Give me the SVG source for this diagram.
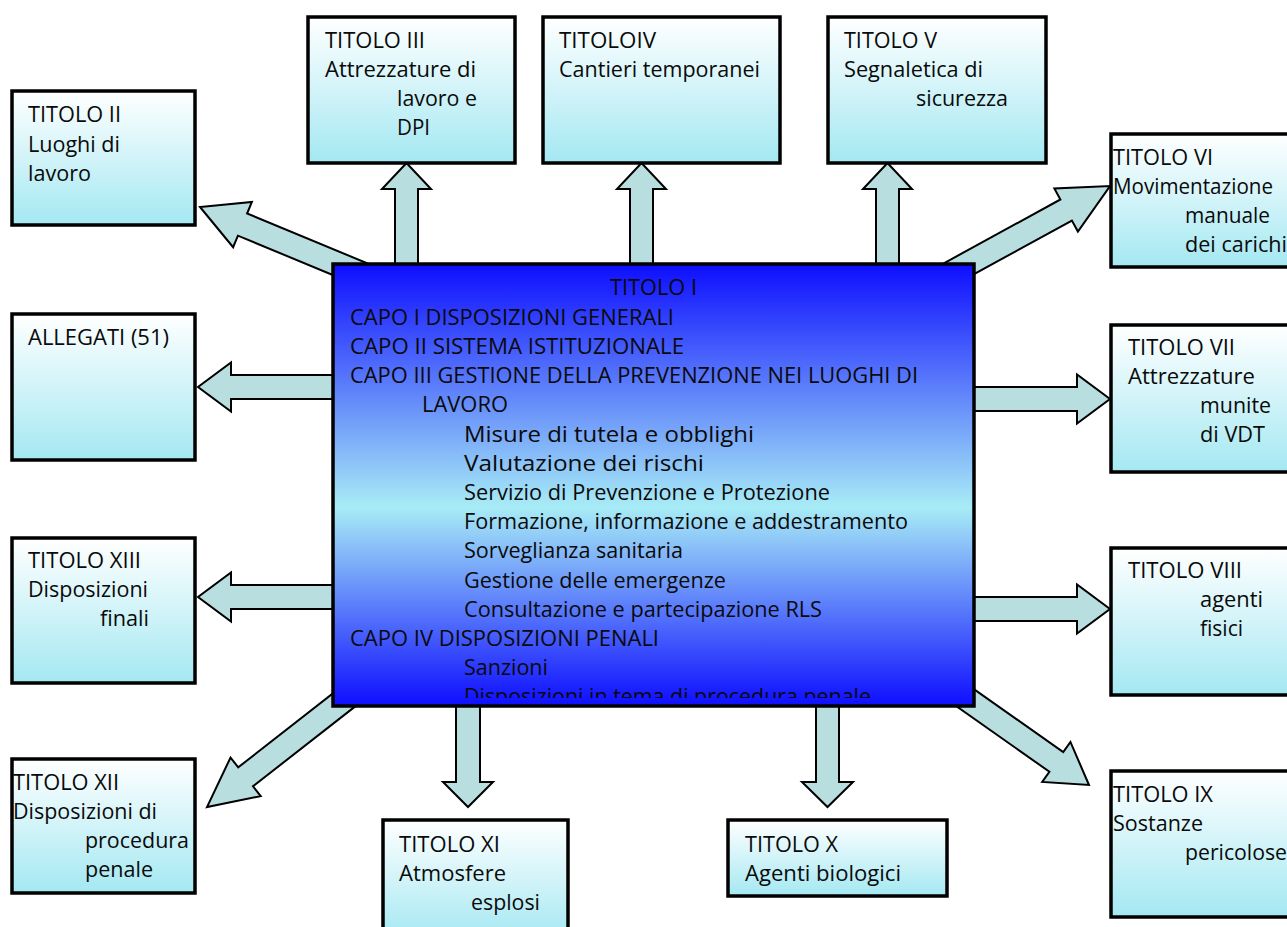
<svg xmlns="http://www.w3.org/2000/svg" width="1287" height="927" viewBox="0 0 1287 927">
<style>
.box{fill:url(#boxg);stroke:#000;stroke-width:3.5}
.arr{fill:#b8dee0;stroke:#000;stroke-width:2;stroke-linejoin:miter}
text{font-family:"Open Sans","Liberation Sans",sans-serif;font-size:21px;fill:#0a0a0a}
</style>
<defs>
<linearGradient id="boxg" x1="0" y1="0" x2="0" y2="1">
<stop offset="0" stop-color="#ffffff"/>
<stop offset="1" stop-color="#a4e8f2"/>
</linearGradient>
<linearGradient id="maing" x1="0" y1="0" x2="0" y2="1">
<stop offset="0" stop-color="#0e0eff"/>
<stop offset="0.55" stop-color="#a8ecf6"/>
<stop offset="1" stop-color="#0e0eff"/>
</linearGradient>
<clipPath id="mainclip"><rect x="335" y="266" width="638" height="432"/></clipPath>
</defs>
<rect width="1287" height="927" fill="#fff"/>
<g id="connectors">
<polygon class="arr" points="-195,-12 -46,-12 -46,-24.5 0,0 -46,24.5 -46,12 -195,12" transform="translate(200,207) rotate(-157.5)"/>
<polygon class="arr" points="395,270 395,189 382,189 406.5,163 431,189 418,189 418,270"/>
<polygon class="arr" points="630,270 630,189 617,189 641.5,163 666,189 653,189 653,270"/>
<polygon class="arr" points="876,270 876,189 863,189 887.5,163 912,189 899,189 899,270"/>
<polygon class="arr" points="-185,-12 -50,-12 -50,-24.5 0,0 -50,24.5 -50,12 -185,12" transform="translate(1110,186) rotate(-28.7)"/>
<polygon class="arr" points="340,375 231,375 231,362.5 198,387 231,411.5 231,399 340,399"/>
<polygon class="arr" points="340,585 231,585 231,572.5 198,597 231,621.5 231,609 340,609"/>
<polygon class="arr" points="968,387 1077,387 1077,374.5 1110,399 1077,423.5 1077,411 968,411"/>
<polygon class="arr" points="968,597 1077,597 1077,584.5 1110,609 1077,633.5 1077,621 968,621"/>
<polygon class="arr" points="-155,-12 -40,-12 -40,-24.5 0,0 -40,24.5 -40,12 -155,12" transform="translate(1089,785) rotate(35.2)"/>
<polygon class="arr" points="816,700 816,782 802,782 827.5,807 853,782 839,782 839,700"/>
<polygon class="arr" points="456,700 456,782 443,782 468,807 493,782 480,782 480,700"/>
<polygon class="arr" points="-180,-12 -49,-12 -49,-24.5 0,0 -49,24.5 -49,12 -180,12" transform="translate(207,807) rotate(142)"/>
</g>
<g id="titolo1">
<rect x="333" y="264" width="641" height="442" fill="url(#maing)" stroke="#000" stroke-width="3.5"/>
<g clip-path="url(#mainclip)">
<text x="610" y="295" textLength="87" lengthAdjust="spacingAndGlyphs">TITOLO I</text>
<text x="350" y="325" textLength="324" lengthAdjust="spacingAndGlyphs">CAPO I DISPOSIZIONI GENERALI</text>
<text x="350" y="354" textLength="334" lengthAdjust="spacingAndGlyphs">CAPO II SISTEMA ISTITUZIONALE</text>
<text x="350" y="383" textLength="568" lengthAdjust="spacingAndGlyphs">CAPO III GESTIONE DELLA PREVENZIONE NEI LUOGHI DI</text>
<text x="422" y="412" textLength="86" lengthAdjust="spacingAndGlyphs">LAVORO</text>
<text x="464" y="442" textLength="290" lengthAdjust="spacingAndGlyphs">Misure di tutela e obblighi</text>
<text x="464" y="471" textLength="240" lengthAdjust="spacingAndGlyphs">Valutazione dei rischi</text>
<text x="464" y="500" textLength="366" lengthAdjust="spacingAndGlyphs">Servizio di Prevenzione e Protezione</text>
<text x="464" y="529" textLength="444" lengthAdjust="spacingAndGlyphs">Formazione, informazione e addestramento</text>
<text x="464" y="558" textLength="219" lengthAdjust="spacingAndGlyphs">Sorveglianza sanitaria</text>
<text x="464" y="588" textLength="262" lengthAdjust="spacingAndGlyphs">Gestione delle emergenze</text>
<text x="464" y="617" textLength="358" lengthAdjust="spacingAndGlyphs">Consultazione e partecipazione RLS</text>
<text x="350" y="646" textLength="309" lengthAdjust="spacingAndGlyphs">CAPO IV DISPOSIZIONI PENALI</text>
<text x="464" y="675" textLength="84" lengthAdjust="spacingAndGlyphs">Sanzioni</text>
<text x="464" y="704" textLength="407" lengthAdjust="spacingAndGlyphs">Disposizioni in tema di procedura penale</text>
</g>
</g>
<g id="titolo2">
<rect class="box" x="12" y="91" width="183" height="134"/>
<text x="28" y="122" textLength="93" lengthAdjust="spacingAndGlyphs">TITOLO II</text>
<text x="28" y="152" textLength="92" lengthAdjust="spacingAndGlyphs">Luoghi di</text>
<text x="28" y="181" textLength="63" lengthAdjust="spacingAndGlyphs">lavoro</text>
</g>
<g id="titolo3">
<rect class="box" x="308" y="17" width="207" height="146"/>
<text x="325" y="48" textLength="100" lengthAdjust="spacingAndGlyphs">TITOLO III</text>
<text x="325" y="77" textLength="151" lengthAdjust="spacingAndGlyphs">Attrezzature di</text>
<text x="397" y="106" textLength="80" lengthAdjust="spacingAndGlyphs">lavoro e</text>
<text x="397" y="135" textLength="33" lengthAdjust="spacingAndGlyphs">DPI</text>
</g>
<g id="titolo4">
<rect class="box" x="543" y="17" width="237" height="146"/>
<text x="559" y="48" textLength="97" lengthAdjust="spacingAndGlyphs">TITOLOIV</text>
<text x="559" y="77" textLength="201" lengthAdjust="spacingAndGlyphs">Cantieri temporanei</text>
</g>
<g id="titolo5">
<rect class="box" x="828" y="17" width="218" height="146"/>
<text x="844" y="48" textLength="93" lengthAdjust="spacingAndGlyphs">TITOLO V</text>
<text x="844" y="77" textLength="139" lengthAdjust="spacingAndGlyphs">Segnaletica di</text>
<text x="916" y="106" textLength="92" lengthAdjust="spacingAndGlyphs">sicurezza</text>
</g>
<g id="titolo6">
<rect class="box" x="1111" y="134" width="200" height="133"/>
<text x="1113" y="165" textLength="100" lengthAdjust="spacingAndGlyphs">TITOLO VI</text>
<text x="1113" y="194" textLength="160" lengthAdjust="spacingAndGlyphs">Movimentazione</text>
<text x="1185" y="223" textLength="85" lengthAdjust="spacingAndGlyphs">manuale</text>
<text x="1185" y="252" textLength="102" lengthAdjust="spacingAndGlyphs">dei carichi</text>
</g>
<g id="allegati">
<rect class="box" x="12" y="314" width="183" height="146"/>
<text x="28" y="345" textLength="141" lengthAdjust="spacingAndGlyphs">ALLEGATI (51)</text>
</g>
<g id="titolo7">
<rect class="box" x="1111" y="325" width="200" height="147"/>
<text x="1128" y="355" textLength="107" lengthAdjust="spacingAndGlyphs">TITOLO VII</text>
<text x="1128" y="384" textLength="127" lengthAdjust="spacingAndGlyphs">Attrezzature</text>
<text x="1200" y="413" textLength="71" lengthAdjust="spacingAndGlyphs">munite</text>
<text x="1200" y="442" textLength="65" lengthAdjust="spacingAndGlyphs">di VDT</text>
</g>
<g id="titolo13">
<rect class="box" x="12" y="538" width="183" height="145"/>
<text x="28" y="568" textLength="113" lengthAdjust="spacingAndGlyphs">TITOLO XIII</text>
<text x="28" y="597" textLength="120" lengthAdjust="spacingAndGlyphs">Disposizioni</text>
<text x="100" y="626" textLength="49" lengthAdjust="spacingAndGlyphs">finali</text>
</g>
<g id="titolo8">
<rect class="box" x="1111" y="548" width="200" height="147"/>
<text x="1128" y="578" textLength="114" lengthAdjust="spacingAndGlyphs">TITOLO VIII</text>
<text x="1200" y="607" textLength="63" lengthAdjust="spacingAndGlyphs">agenti</text>
<text x="1200" y="636" textLength="43" lengthAdjust="spacingAndGlyphs">fisici</text>
</g>
<g id="titolo12">
<rect class="box" x="12" y="759" width="183" height="134"/>
<text x="13" y="790" textLength="106" lengthAdjust="spacingAndGlyphs">TITOLO XII</text>
<text x="13" y="819" textLength="144" lengthAdjust="spacingAndGlyphs">Disposizioni di</text>
<text x="85" y="848" textLength="104" lengthAdjust="spacingAndGlyphs">procedura</text>
<text x="85" y="877" textLength="68" lengthAdjust="spacingAndGlyphs">penale</text>
</g>
<g id="titolo11">
<rect class="box" x="383" y="820" width="185" height="120"/>
<text x="399" y="852" textLength="101" lengthAdjust="spacingAndGlyphs">TITOLO XI</text>
<text x="399" y="881" textLength="107" lengthAdjust="spacingAndGlyphs">Atmosfere</text>
<text x="471" y="910" textLength="69" lengthAdjust="spacingAndGlyphs">esplosi</text>
</g>
<g id="titolo10">
<rect class="box" x="728" y="820" width="219" height="76"/>
<text x="745" y="852" textLength="93" lengthAdjust="spacingAndGlyphs">TITOLO X</text>
<text x="745" y="881" textLength="156" lengthAdjust="spacingAndGlyphs">Agenti biologici</text>
</g>
<g id="titolo9">
<rect class="box" x="1111" y="771" width="200" height="146"/>
<text x="1113" y="802" textLength="100" lengthAdjust="spacingAndGlyphs">TITOLO IX</text>
<text x="1113" y="831" textLength="90" lengthAdjust="spacingAndGlyphs">Sostanze</text>
<text x="1185" y="860" textLength="102" lengthAdjust="spacingAndGlyphs">pericolose</text>
</g>
</svg>
